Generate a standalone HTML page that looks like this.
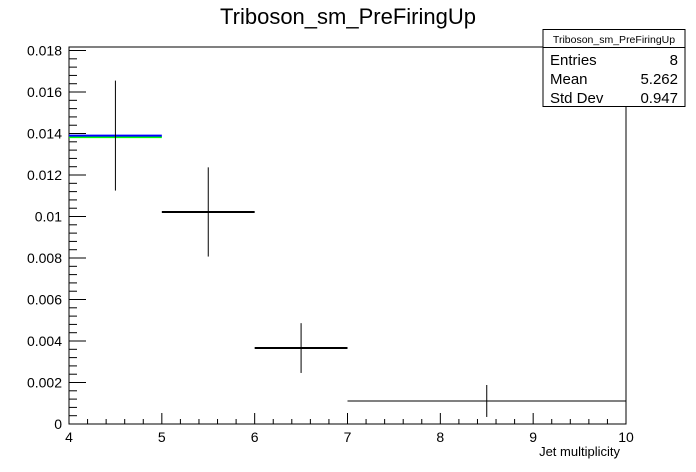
<!DOCTYPE html>
<html><head><meta charset="utf-8"><style>
body{margin:0;background:#fff}
svg{display:block;font-family:"Liberation Sans",sans-serif}
</style></head><body>
<svg id="c" width="696" height="472">
<text x="348" y="24" font-size="22" text-anchor="middle">Triboson_sm_PreFiringUp</text>
<rect x="69" y="47" width="557" height="377" fill="none" stroke="#000" stroke-width="1"/>
<g id="axes"></g>
<g id="marks"></g>
<text x="620" y="456" font-size="13" text-anchor="end">Jet multiplicity</text>
<g>
<rect x="543" y="29.5" width="142" height="77" fill="#fff" stroke="#000"/>
<line x1="543" y1="47.5" x2="685" y2="47.5" stroke="#000"/>
<text x="614" y="43" font-size="10.5" text-anchor="middle">Triboson_sm_PreFiringUp</text>
<text x="550" y="65" font-size="15">Entries</text><text x="678" y="65" font-size="15" text-anchor="end">8</text>
<text x="550" y="84" font-size="15">Mean</text><text x="678" y="84" font-size="15" text-anchor="end">5.262</text>
<text x="550" y="103" font-size="15">Std Dev</text><text x="678" y="103" font-size="15" text-anchor="end">0.947</text>
</g>
</svg>
<script>
const binLow=[4,5,6,7];
const binHigh=[5,6,7,10];
const values=[0.0139,0.01022,0.00366,0.00111];
const errors=[0.00265,0.00215,0.0012,0.00077];
const xTicks=[4,5,6,7,8,9,10];
const yTicks=[0,0.002,0.004,0.006,0.008,0.01,0.012,0.014,0.016,0.018];
const yTickLabels=["0","0.002","0.004","0.006","0.008","0.01","0.012","0.014","0.016","0.018"];
const X0=69,X1=626,Y0=424,Y1=47,xmin=4,xmax=10,ymax=0.01817;
const sx=v=>X0+(v-xmin)/(xmax-xmin)*(X1-X0);
const sy=v=>Y0-v/ymax*(Y0-Y1);
const NS="http://www.w3.org/2000/svg";
function mk(tag,attrs,parent){const e=document.createElementNS(NS,tag);for(const k in attrs)e.setAttribute(k,attrs[k]);parent.appendChild(e);return e;}
const ax=document.getElementById('axes'),mg=document.getElementById('marks');
for(let v=xmin;v<=xmax+1e-9;v+=0.2){const maj=Math.abs(v-Math.round(v))<1e-6;const l=mk('line',{x1:sx(v),x2:sx(v),y1:Y0,y2:Y0-(maj?11:5),stroke:'#000'},ax);

}
xTicks.forEach(v=>{const t=mk('text',{x:sx(v),y:442,'font-size':14,'text-anchor':'middle'},ax);t.textContent=v;

});
for(let v=0;v<=ymax;v+=0.0004){const maj=Math.abs(v/0.002-Math.round(v/0.002))<1e-6;const l=mk('line',{x1:X0,x2:X0+(maj?17:8),y1:sy(v),y2:sy(v),stroke:'#000'},ax);

}
yTicks.forEach((v,i)=>{const t=mk('text',{x:62,y:sy(v)+5,'font-size':14,'text-anchor':'end'},ax);t.textContent=yTickLabels[i];

});
values.forEach((v,i)=>{const xc=(binLow[i]+binHigh[i])/2;
if(i===0){const g=mk('line',{x1:sx(binLow[i]),x2:sx(binHigh[i]),y1:sy(v)+1.5,y2:sy(v)+1.5,stroke:'#00ff00','stroke-width':2},mg);


const b=mk('line',{x1:sx(binLow[i]),x2:sx(binHigh[i]),y1:sy(v),y2:sy(v),stroke:'#0000ff','stroke-width':2},mg);

}
else{const h=mk('line',{x1:sx(binLow[i]),x2:sx(binHigh[i]),y1:sy(v),y2:sy(v),stroke:'#000','stroke-width':(binHigh[i]-binLow[i]>1?1:2)},mg);

}
const e=mk('line',{x1:sx(xc),x2:sx(xc),y1:sy(v+errors[i]),y2:sy(v-errors[i]),stroke:'#000'},mg);

});
</script>
</body></html>
